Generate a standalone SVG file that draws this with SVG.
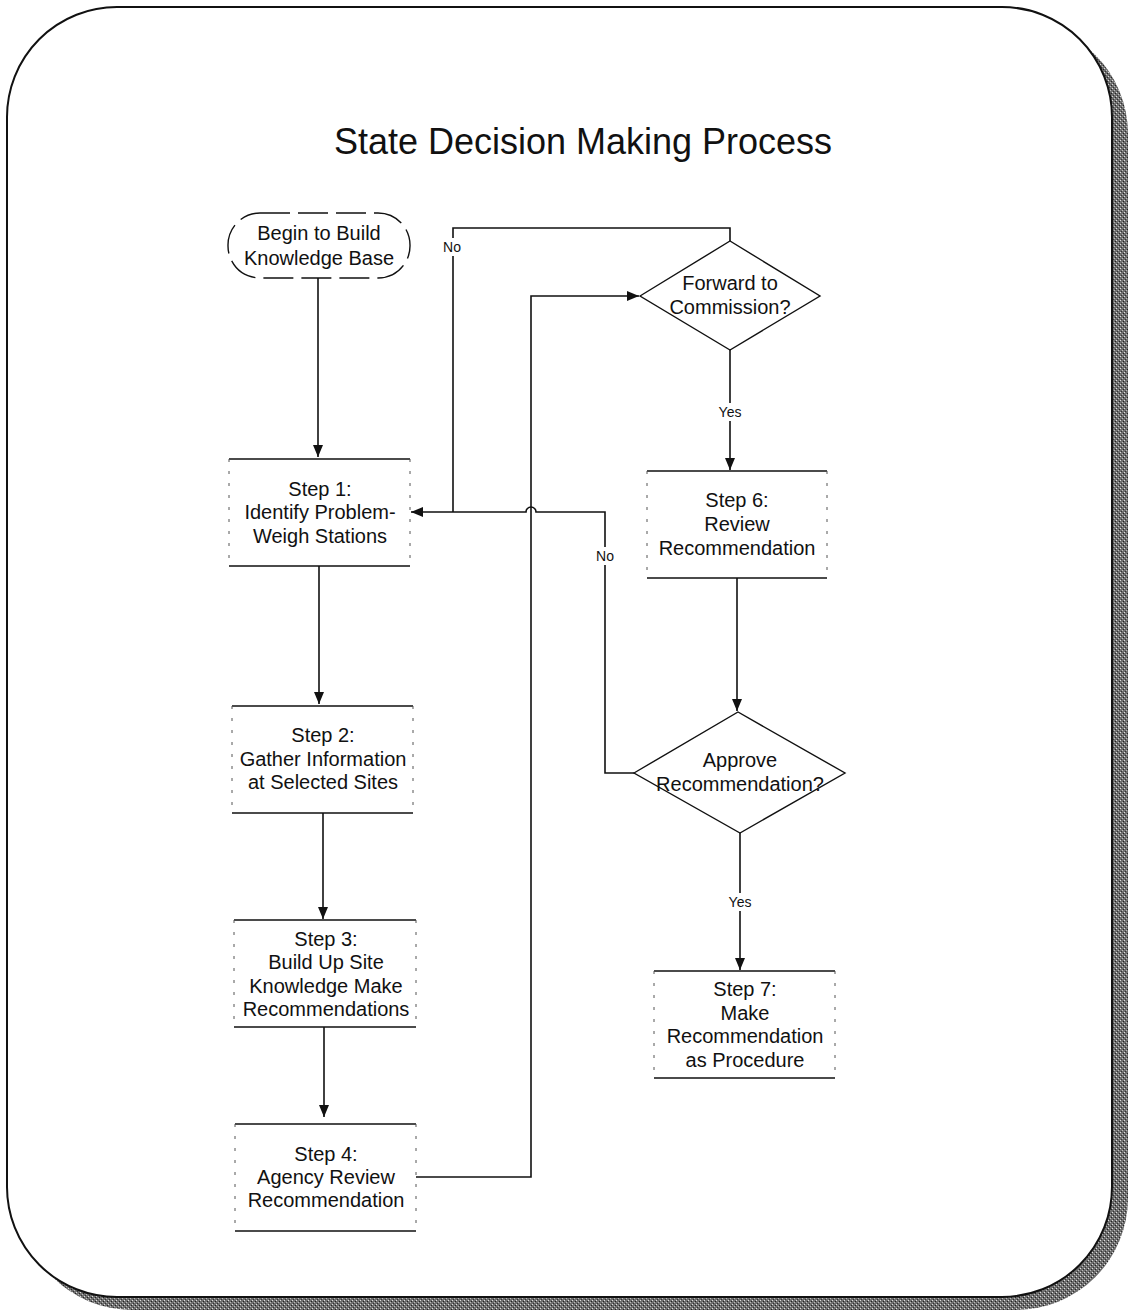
<svg xmlns="http://www.w3.org/2000/svg" width="1132" height="1314" viewBox="0 0 1132 1314">
<style>
text{font-family:"Liberation Sans",Arial,sans-serif;fill:#111;text-anchor:middle}
.t{font-size:20px}
.lbl{font-size:14px}
.title{font-size:36px}
.edge{fill:none;stroke:#111;stroke-width:1.6}
.solid{stroke:#111;stroke-width:1.6;fill:none}
.side{stroke:#555;stroke-width:1;stroke-dasharray:3 9;fill:none}
.dia{fill:#fff;stroke:#111;stroke-width:1.4}
</style>
<defs>
<marker id="arr" markerUnits="userSpaceOnUse" markerWidth="12" markerHeight="10" refX="12" refY="5" orient="auto">
<path d="M0,0 L12,5 L0,10 z" fill="#111"/>
</marker>
<pattern id="stip" width="4" height="4" patternUnits="userSpaceOnUse">
<rect width="4" height="4" fill="#6e6e6e"/>
<rect x="0" y="0" width="1" height="1" fill="#ddd"/>
<rect x="2" y="2" width="1" height="1" fill="#bbb"/>
<rect x="3" y="1" width="1" height="1" fill="#222"/>
<rect x="1" y="3" width="1" height="1" fill="#333"/>
</pattern>
</defs>
<rect width="1132" height="1314" fill="#fff"/>
<g id="frame">
<rect x="20" y="22" width="1108" height="1288" rx="112" fill="url(#stip)"/>
<rect x="7" y="7" width="1105" height="1290" rx="110" fill="#fff" stroke="#111" stroke-width="2"/>
</g>
<text class="title" x="583" y="154">State Decision Making Process</text>
<g id="connectors">
<path class="edge" d="M318,278 V457" marker-end="url(#arr)"/>
<path class="edge" d="M319,566 V704" marker-end="url(#arr)"/>
<path class="edge" d="M323,813 V919" marker-end="url(#arr)"/>
<path class="edge" d="M324,1027 V1117" marker-end="url(#arr)"/>
<path class="edge" d="M416,1177 H531 V296 H639" marker-end="url(#arr)"/>
<path class="edge" d="M730,241 V228 H453 V512"/>
<path class="edge" d="M634,773 H605 V512 H536 A5,5 0 0 0 526,512 H411" marker-end="url(#arr)"/>
<path class="edge" d="M730,350 V470" marker-end="url(#arr)"/>
<path class="edge" d="M737,578 V711" marker-end="url(#arr)"/>
<path class="edge" d="M740,833 V970" marker-end="url(#arr)"/>
<rect x="441" y="238" width="24" height="18" fill="#fff"/>
<text class="lbl" x="452" y="252">No</text>
<rect x="593" y="547" width="24" height="18" fill="#fff"/>
<text class="lbl" x="605" y="561">No</text>
<rect x="715" y="403" width="30" height="18" fill="#fff"/>
<text class="lbl" x="730" y="417">Yes</text>
<rect x="725" y="893" width="30" height="18" fill="#fff"/>
<text class="lbl" x="740" y="907">Yes</text>
</g>
<g id="start">
<rect x="228" y="213" width="182" height="65" rx="32" fill="#fff" stroke="#111" stroke-width="1.4" stroke-dasharray="30 8"/>
<text class="t" x="319" y="240">Begin to Build</text>
<text class="t" x="319" y="265">Knowledge Base</text>
</g>
<g id="step1">
<rect x="229" y="459" width="181" height="107" fill="#fff"/>
<path class="solid" d="M229,459 H410 M229,566 H410"/>
<path class="side" d="M229,459 V566 M410,459 V566"/>
<text class="t" x="320" y="496">Step 1:</text>
<text class="t" x="320" y="519">Identify Problem-</text>
<text class="t" x="320" y="543">Weigh Stations</text>
</g>
<g id="step2">
<rect x="232" y="706" width="181" height="107" fill="#fff"/>
<path class="solid" d="M232,706 H413 M232,813 H413"/>
<path class="side" d="M232,706 V813 M413,706 V813"/>
<text class="t" x="323" y="742">Step 2:</text>
<text class="t" x="323" y="766">Gather Information</text>
<text class="t" x="323" y="789">at Selected Sites</text>
</g>
<g id="step3">
<rect x="234" y="920" width="182" height="107" fill="#fff"/>
<path class="solid" d="M234,920 H416 M234,1027 H416"/>
<path class="side" d="M234,920 V1027 M416,920 V1027"/>
<text class="t" x="326" y="946">Step 3:</text>
<text class="t" x="326" y="969">Build Up Site</text>
<text class="t" x="326" y="993">Knowledge Make</text>
<text class="t" x="326" y="1016">Recommendations</text>
</g>
<g id="step4">
<rect x="235" y="1124" width="181" height="107" fill="#fff"/>
<path class="solid" d="M235,1124 H416 M235,1231 H416"/>
<path class="side" d="M235,1124 V1231 M416,1124 V1231"/>
<text class="t" x="326" y="1161">Step 4:</text>
<text class="t" x="326" y="1184">Agency Review</text>
<text class="t" x="326" y="1207">Recommendation</text>
</g>
<g id="decision1">
<polygon class="dia" points="640,296 730,241 820,296 730,350"/>
<text class="t" x="730" y="290">Forward to</text>
<text class="t" x="730" y="314">Commission?</text>
</g>
<g id="step6">
<rect x="647" y="471" width="180" height="107" fill="#fff"/>
<path class="solid" d="M647,471 H827 M647,578 H827"/>
<path class="side" d="M647,471 V578 M827,471 V578"/>
<text class="t" x="737" y="507">Step 6:</text>
<text class="t" x="737" y="531">Review</text>
<text class="t" x="737" y="555">Recommendation</text>
</g>
<g id="decision2">
<polygon class="dia" points="634,773 738,712 845,773 740,833"/>
<text class="t" x="740" y="767">Approve</text>
<text class="t" x="740" y="791">Recommendation?</text>
</g>
<g id="step7">
<rect x="654" y="971" width="181" height="107" fill="#fff"/>
<path class="solid" d="M654,971 H835 M654,1078 H835"/>
<path class="side" d="M654,971 V1078 M835,971 V1078"/>
<text class="t" x="745" y="996">Step 7:</text>
<text class="t" x="745" y="1020">Make</text>
<text class="t" x="745" y="1043">Recommendation</text>
<text class="t" x="745" y="1067">as Procedure</text>
</g>
</svg>
